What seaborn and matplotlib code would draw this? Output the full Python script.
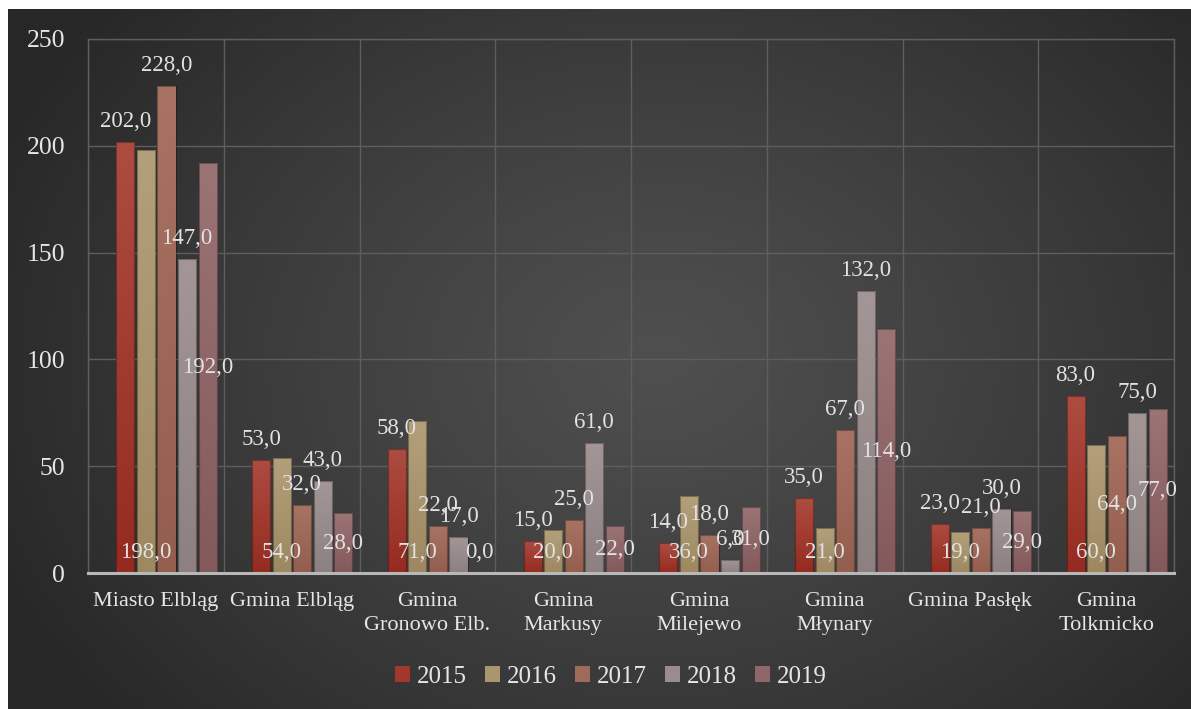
import numpy as np
import pandas as pd
import matplotlib
matplotlib.use("Agg")
from matplotlib import pyplot as plt
import seaborn as sns

plt.rcParams["font.family"] = ["Liberation Serif", "DejaVu Serif"]

categories = ["Miasto Elbląg", "Gmina Elbląg", "Gmina\nGronowo Elb.", "Gmina\nMarkusy",
              "Gmina\nMilejewo", "Gmina\nMłynary", "Gmina Pasłęk", "Gmina\nTolkmicko"]
years = ["2015", "2016", "2017", "2018", "2019"]
v2015 = [202, 53, 58, 15, 14, 35, 23, 83]
v2016 = [198, 54, 71, 20, 36, 21, 19, 60]
v2017 = [228, 32, 22, 25, 18, 67, 21, 64]
v2018 = [147, 43, 17, 61, 6, 132, 30, 75]
v2019 = [192, 28, 0, 22, 31, 114, 29, 77]
series = [v2015, v2016, v2017, v2018, v2019]

# label placement per year (Excel style)
label_mode = ["out", "base", "out", "out", "center"]

colors = ["#a0382d", "#a9956e", "#9f6a59", "#9a8c8c", "#906668"]
tops = ["#ad4c41", "#b3a07b", "#a87363", "#a49696", "#9b7476"]
bottoms = ["#952b20", "#9d8860", "#935e4d", "#8c8080", "#84595b"]

df = pd.DataFrame({
    "gmina": categories * len(years),
    "rok": np.repeat(years, len(categories)),
    "wartosc": np.concatenate(series),
})

W, H = 1191, 709
fig = plt.figure(figsize=(W / 100, H / 100), dpi=100, facecolor="white")

# dark radial background
bg = fig.add_axes([8 / W, 0, 1183 / W, 700 / H])
bg.axis("off")
gx, gy = np.meshgrid(np.linspace(0, 1, 400), np.linspace(0, 1, 300))
r = np.sqrt(((gx - 0.55) / 0.62) ** 2 + ((gy - 0.5) / 0.8) ** 2)
r = np.clip(r, 0, 1)
shade = (0x4f - (0x4f - 0x27) * r ** 1.2) / 255
bg.imshow(np.dstack([shade] * 3), extent=[0, 1, 0, 1], aspect="auto", origin="upper")
bg.set_xlim(0, 1)
bg.set_ylim(0, 1)

ax = fig.add_axes([88 / W, 1 - 573 / H, (1174 - 88) / W, (573 - 39) / H])
ax.set_facecolor("none")

sns.barplot(data=df, x="gmina", y="wartosc", hue="rok", palette=colors, width=0.757,
            gap=0.12, saturation=1, ax=ax, errorbar=None)

sns.move_legend(ax, "center", bbox_to_anchor=(0.4816, -0.195), ncol=5, frameon=False,
                title=None, fontsize=18, handlelength=0.6, handleheight=0.6,
                handletextpad=0.25, columnspacing=0.75, labelcolor="#e6e6e6")

shift = 0.078
for k, cont in enumerate(ax.containers):
    for j, p in enumerate(cont.patches):
        p.set_x(p.get_x() + shift)
        x0, w, h = p.get_x(), p.get_width(), p.get_height()
        p.set_facecolor("none")
        p.set_edgecolor((0, 0, 0, 0.3))
        p.set_linewidth(0.8)
        p.set_zorder(3)
        if h > 0:
            c1 = np.array(matplotlib.colors.to_rgb(tops[k]))
            c2 = np.array(matplotlib.colors.to_rgb(bottoms[k]))
            t = np.linspace(0, 1, 64)[:, None]
            grad = (c1 * (1 - t) + c2 * t)[:, None, :]
            im = ax.imshow(grad, extent=[x0, x0 + w, 0, h], aspect="auto", zorder=2,
                           origin="upper", interpolation="bilinear")
            im.set_clip_path(p)

        v = series[k][j]
        xc = x0 + w / 2
        txt = f"{v:.1f}".replace(".", ",")
        mode = label_mode[k]
        if k == 2 and j == 7:
            mode = "center"
        if mode == "center" and v == 0:
            mode = "base"
        if mode == "out":
            ax.annotate(txt, (xc, v), xytext=(0, 10.8), textcoords="offset points",
                        ha="center", va="baseline", fontsize=16.5, color="#e2e2e2", zorder=5)
        elif mode == "base":
            ax.annotate(txt, (xc, 0), xytext=(0, 10.8), textcoords="offset points",
                        ha="center", va="baseline", fontsize=16.5, color="#e2e2e2", zorder=5)
        else:
            ax.annotate(txt, (xc, v / 2), ha="center", va="center",
                        fontsize=16.5, color="#e2e2e2", zorder=5)

ax.set_xlim(-0.5, 7.5)
ax.set_ylim(0, 250)
ax.set_aspect("auto")
ax.set_yticks(range(0, 251, 50))
ax.set_xticks(np.arange(-0.5, 8), minor=True)
ax.grid(axis="y", which="major", color="#5e5e5e", lw=1)
ax.grid(axis="x", which="minor", color="#5e5e5e", lw=1)
ax.set_axisbelow(True)
for s in ["top", "right", "left"]:
    ax.spines[s].set_color("#5e5e5e")
    ax.spines[s].set_linewidth(1)
ax.spines["bottom"].set_color("#b8b8b8")
ax.spines["bottom"].set_linewidth(2.2)
ax.spines["bottom"].set_zorder(6)
ax.tick_params(axis="y", length=0, pad=16.5, labelsize=18.5, labelcolor="#e6e6e6")
ax.tick_params(axis="x", which="both", length=0, pad=14, labelsize=16, labelcolor="#e6e6e6")
for lab in ax.get_xticklabels():
    lab.set_linespacing(1.3)
ax.set_xlabel("")
ax.set_ylabel("")

plt.savefig("out.png", dpi=100, facecolor="white")
